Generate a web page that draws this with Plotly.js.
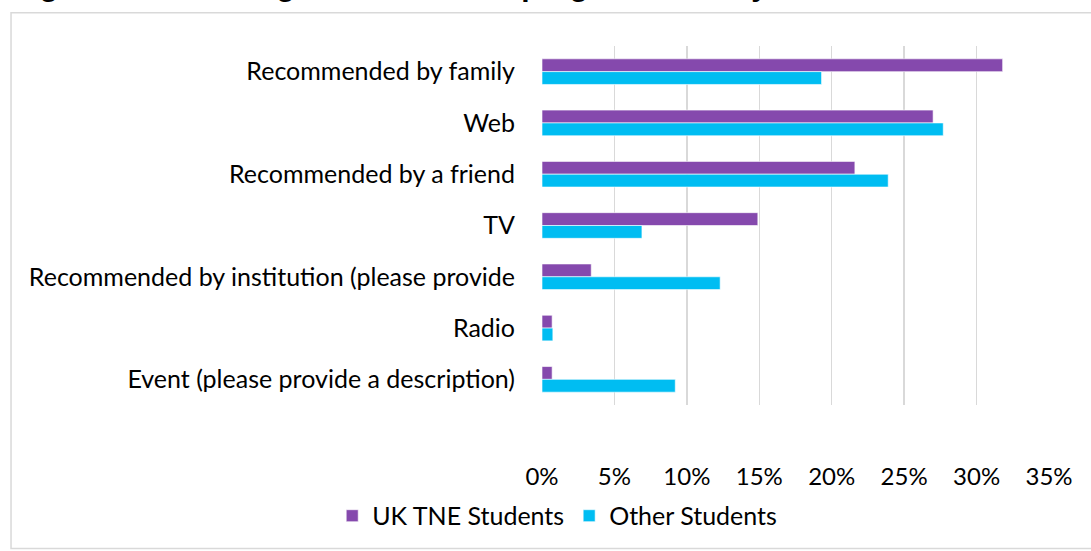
<!DOCTYPE html>
<html>
<head>
<meta charset="utf-8">
<script src="https://cdn.plot.ly/plotly-3.0.1.min.js"></script>
<style>html,body{margin:0;padding:0;background:#fff;}#chart{width:1091px;height:551px;}</style>
</head>
<body>
<div id="chart"></div>
<script>
var categories = [
  "Recommended by family",
  "Web",
  "Recommended by a friend",
  "TV",
  "Recommended by institution (please provide",
  "Radio",
  "Event (please provide a description)"
];
var ukTne = [0.318, 0.270, 0.216, 0.149, 0.034, 0.007, 0.007];
var otherStudents = [0.193, 0.277, 0.239, 0.069, 0.123, 0.0075, 0.092];
var seriesNames = ["UK TNE Students", "Other Students"];
var xTickVals = [0, 0.05, 0.10, 0.15, 0.20, 0.25, 0.30, 0.35];
var xTickText = ["0%", "5%", "10%", "15%", "20%", "25%", "30%", "35%"];
var titleText = "Figure 10: Sourcing information on program of study and institution";

var FONT = "Lato, 'Open Sans', sans-serif";
var traces = [
  {type: "bar", orientation: "h", name: seriesNames[0], y: categories, x: ukTne,
   marker: {color: "#8549AD", line: {color: "rgba(255,255,255,0.6)", width: 1}}, hoverinfo: "x+y"},
  {type: "bar", orientation: "h", name: seriesNames[1], y: categories, x: otherStudents,
   marker: {color: "#00BDF2", line: {color: "rgba(255,255,255,0.6)", width: 1}}, hoverinfo: "x+y"}
];

var layout = {
  width: 1091, height: 551,
  margin: {l: 542, r: 42, t: 46, b: 138, pad: 0},
  paper_bgcolor: "#ffffff", plot_bgcolor: "#ffffff",
  font: {family: FONT, size: 24, color: "#000000"},
  barmode: "group",
  bargap: 0.5, bargroupgap: 0,
  showlegend: true,
  legend: {orientation: "h", x: 0.03, xanchor: "center", y: -0.245, yanchor: "top",
           font: {family: FONT, size: 25, color: "#000"}, traceorder: "normal", itemwidth: 30},
  xaxis: {range: [0, 0.35], tickvals: xTickVals, ticktext: xTickText,
          showgrid: true, gridcolor: "#d9d9d9", gridwidth: 1.5,
          zeroline: false, showline: false, ticks: "", ticklabelstandoff: 55,
          tickfont: {family: FONT, size: 24, color: "#000"}, fixedrange: true},
  yaxis: {autorange: "reversed", showgrid: false, zeroline: false, showline: false,
          ticks: "", ticklabelstandoff: 26, tickfont: {family: FONT, size: 25, color: "#000"},
          fixedrange: true},
  shapes: [
    {type: "rect", xref: "paper", yref: "paper", x0: -1.0473, x1: 1.095, y0: -0.40, y1: 1.0926,
     line: {color: "#d9d9d9", width: 1.5}, fillcolor: "rgba(0,0,0,0)", layer: "below"}
  ],
  annotations: [
    {text: titleText, xref: "paper", yref: "paper", x: -1.047, xanchor: "left",
     y: 1.117, yanchor: "bottom", showarrow: false,
     font: {family: "'Liberation Sans', Arial, sans-serif", size: 30, color: "#000"}}
  ]
};
layout.annotations[0].text = "<b>" + titleText + "</b>";

Plotly.newPlot("chart", traces, layout, {displayModeBar: false, staticPlot: true});
</script>
</body>
</html>
